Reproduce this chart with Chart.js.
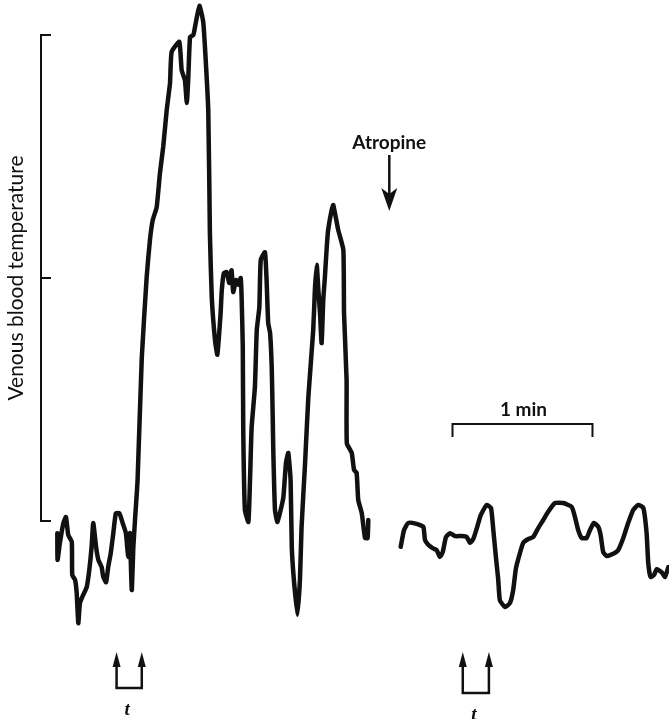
<!DOCTYPE html>
<html>
<head>
<meta charset="utf-8">
<script src="https://cdn.jsdelivr.net/npm/chart.js@4"></script>
<style>
  html, body { margin: 0; padding: 0; background: #fff; }
  #wrap { width: 669px; height: 719px; }
</style>
</head>
<body>
<div id="wrap"><canvas id="myChart" width="669" height="719"></canvas></div>
<script>
// time in seconds (1 min bar = 60 s), temperature in arbitrary units (bracket 0-100)
const timeBefore = [1.0, 1.1, 2.1, 3.6, 4.7, 5.7, 7.2, 7.4, 8.6, 9.3, 10.0, 10.7, 12.1, 13.6, 14.7, 15.7, 16.4, 17.6, 18.6, 20.0,
  20.7, 21.9, 22.8, 23.9, 25.0, 26.1, 27.6, 29.0, 30.4, 31.4, 32.1, 32.9, 33.6, 34.3, 35.4, 37.2, 39.3, 40.7, 41.9, 43.6,
  45.0, 46.4, 47.9, 49.3, 50.0, 53.3, 54.3, 55.7, 56.5, 57.1, 57.9, 59.3, 60.0, 61.9, 63.6, 65.7, 66.4, 67.2, 68.6, 69.6,
  70.4, 71.0, 71.5, 72.4, 73.6, 74.7, 75.7, 76.4, 77.6, 78.6, 79.6, 80.0, 80.5, 80.7, 81.4, 82.9, 83.6, 84.3, 85.7, 86.5,
  87.6, 88.2, 90.0, 90.7, 91.4, 92.2, 92.9, 93.3, 93.6, 94.3, 95.3, 96.4, 97.9, 99.0, 100.0, 101.0, 101.5, 102.4, 103.9, 105.0,
  105.7, 107.2, 108.6, 110.7, 111.4, 112.2, 112.9, 113.6, 114.3, 115.0, 115.7, 116.5, 117.1, 118.6, 119.3, 121.4, 123.6, 123.9, 125.0, 125.1,
  127.2, 128.2, 129.3, 130.0, 131.5, 132.9, 134.0, 134.3];
const tempBefore = [-2.5, -8.0, -4.5, -0.4, 0.8, -2.9, -4.3, -11.1, -12.1, -14.8, -21.0, -16.9, -15.2, -13.6, -10.1, -5.3, -0.4, -5.3, -8.0, -9.5,
  -11.5, -12.6, -9.5, -6.6, -2.5, 1.6, 1.6, -0.4, -2.5, -7.4, -2.5, -14.2, -5.3, 0.2, 8.4, 33.5, 50.2, 57.8, 61.9, 64.6,
  71.6, 77.0, 84.6, 90.1, 96.5, 98.6, 92.8, 90.7, 86.0, 90.7, 99.6, 100.0, 101.6, 106.0, 102.5, 84.6, 59.3, 46.1, 37.2, 34.2,
  38.7, 42.8, 47.5, 51.0, 51.2, 49.0, 51.6, 47.1, 49.6, 48.6, 50.0, 46.1, 35.8, 18.7, 2.3, -0.2, 8.4, 19.3, 27.6, 39.3,
  44.0, 53.7, 55.3, 49.6, 40.7, 38.7, 31.7, 22.2, 14.0, 2.3, -0.2, 1.6, 4.9, 11.9, 14.0, 8.4, -5.3, -12.1, -19.3, -12.1,
  -1.2, 11.9, 25.5, 39.3, 47.5, 52.7, 47.5, 42.8, 36.6, 45.5, 50.2, 56.4, 59.9, 64.0, 65.0, 59.9, 55.8, 42.8, 29.0, 16.0,
  14.0, 10.5, 9.9, 4.3, 1.6, -3.5, -3.5, 0.2];

const timeAfter = [148.2, 149.6, 151.4, 155.0, 157.9, 158.6, 160.0, 161.9, 163.6, 165.0, 166.2, 167.6, 169.3, 171.5, 174.3, 176.5, 177.9, 179.3, 181.0, 182.5,
  185.0, 186.9, 187.9, 189.0, 190.0, 190.7, 192.9, 195.0, 196.4, 197.6, 199.3, 200.7, 202.9, 205.0, 207.2, 209.3, 211.4, 214.3, 217.9, 221.5,
  222.9, 224.3, 225.8, 227.9, 229.3, 231.0, 232.9, 233.9, 235.0, 236.5, 239.0, 241.4, 243.6, 245.7, 247.9, 250.0, 252.2, 253.6, 254.3, 255.3,
  256.8, 257.9, 260.0, 261.5, 262.9];
const tempAfter = [-5.3, -1.9, -0.4, -0.6, -1.2, -3.9, -4.9, -5.6, -6.0, -7.4, -6.4, -3.3, -2.5, -3.1, -3.1, -3.3, -4.5, -3.7, -1.2, 1.2,
  3.3, 2.7, -1.9, -7.4, -12.1, -16.3, -17.7, -16.9, -14.2, -9.7, -6.6, -4.5, -3.7, -3.3, -1.4, 0.2, 1.9, 3.7, 3.7, 2.9,
  0.8, -1.9, -3.5, -3.5, -1.9, -0.4, -1.2, -2.9, -6.4, -7.2, -6.8, -6.0, -3.5, -0.4, 2.3, 3.3, 2.7, -2.5, -8.6, -11.5,
  -11.1, -9.9, -10.5, -11.5, -9.5];

const tickValues = [0, 50, 100];
const stimulusTimes = [[26.4, 37.2], [174.8, 186.0]];
const atropineTime = 143.3;
const scaleBarStart = 170.4;
const scaleBarSeconds = 60;

function toPoints(xs, ys) {
  return xs.map(function (x, i) { return { x: x, y: ys[i] }; });
}

// brackets, arrows and labels drawn on top of the traces
const figureMarks = {
  id: 'figureMarks',
  afterDatasetsDraw(chart) {
    const ctx = chart.ctx;
    const xs = chart.scales.x;
    const ys = chart.scales.y;
    ctx.save();
    ctx.strokeStyle = '#111';
    ctx.fillStyle = '#111';
    ctx.lineCap = 'butt';

    // temperature bracket
    const bx = 41;
    ctx.lineWidth = 2;
    ctx.beginPath();
    ctx.moveTo(bx, ys.getPixelForValue(tickValues[tickValues.length - 1]));
    ctx.lineTo(bx, ys.getPixelForValue(tickValues[0]));
    tickValues.forEach(function (v) {
      const py = ys.getPixelForValue(v);
      ctx.moveTo(bx - 1, py);
      ctx.lineTo(bx + 10, py);
    });
    ctx.stroke();

    ctx.save();
    ctx.translate(16, ys.getPixelForValue(50));
    ctx.rotate(-Math.PI / 2);
    ctx.font = '21px Lato';
    ctx.textAlign = 'center';
    ctx.textBaseline = 'middle';
    ctx.fillText('Venous blood temperature', 0, 0);
    ctx.restore();

    // atropine arrow
    const ax = xs.getPixelForValue(atropineTime);
    ctx.font = 'bold 19px Lato';
    ctx.textAlign = 'center';
    ctx.textBaseline = 'middle';
    ctx.fillText('Atropine', ax, 143);
    ctx.lineWidth = 2.5;
    ctx.beginPath();
    ctx.moveTo(ax, 155);
    ctx.lineTo(ax, 195);
    ctx.stroke();
    ctx.beginPath();
    ctx.moveTo(ax - 8, 188);
    ctx.lineTo(ax, 211);
    ctx.lineTo(ax + 8, 188);
    ctx.lineTo(ax, 194);
    ctx.closePath();
    ctx.fill();

    // 1 min scale bar
    const s0 = xs.getPixelForValue(scaleBarStart);
    const s1 = xs.getPixelForValue(scaleBarStart + scaleBarSeconds);
    ctx.lineWidth = 2;
    ctx.beginPath();
    ctx.moveTo(s0, 437);
    ctx.lineTo(s0, 424);
    ctx.lineTo(s1, 424);
    ctx.lineTo(s1, 437);
    ctx.stroke();
    ctx.font = 'bold 19px Lato';
    ctx.fillText('1 min', (s0 + s1) / 2 + 1, 410);

    // stimulus markers
    stimulusTimes.forEach(function (pair, k) {
      const p0 = xs.getPixelForValue(pair[0]);
      const p1 = xs.getPixelForValue(pair[1]);
      const base = k === 0 ? 688 : 693;
      ctx.lineWidth = 2.5;
      ctx.beginPath();
      ctx.moveTo(p0, 662);
      ctx.lineTo(p0, base);
      ctx.lineTo(p1, base);
      ctx.lineTo(p1, 662);
      ctx.stroke();
      [p0, p1].forEach(function (p) {
        ctx.beginPath();
        ctx.moveTo(p - 4, 667);
        ctx.lineTo(p, 652);
        ctx.lineTo(p + 4, 667);
        ctx.closePath();
        ctx.fill();
      });
      ctx.font = 'italic bold 19px "Liberation Serif"';
      ctx.fillText('t', (p0 + p1) / 2 - 2, base + 22);
    });
    ctx.restore();
  }
};

const lineStyle = {
  borderColor: '#111',
  borderWidth: 4.5,
  pointRadius: 0,
  tension: 0.15,
  borderJoinStyle: 'round',
  borderCapStyle: 'round',
  clip: false,
  fill: false
};

const ctx = document.getElementById('myChart').getContext('2d');
const myChart = new Chart(ctx, {
  type: 'line',
  data: {
    datasets: [
      Object.assign({ label: 'Before atropine', data: toPoints(timeBefore, tempBefore) }, lineStyle),
      Object.assign({ label: 'After atropine', data: toPoints(timeAfter, tempAfter) }, lineStyle)
    ]
  },
  options: {
    responsive: false,
    animation: false,
    layout: { padding: 0 },
    plugins: { legend: { display: false }, tooltip: { enabled: false } },
    scales: {
      x: { type: 'linear', display: false, min: -23.57, max: 263.2 },
      y: { type: 'linear', display: false, min: -40.74, max: 107.2 }
    }
  },
  plugins: [figureMarks]
});
</script>
</body>
</html>
